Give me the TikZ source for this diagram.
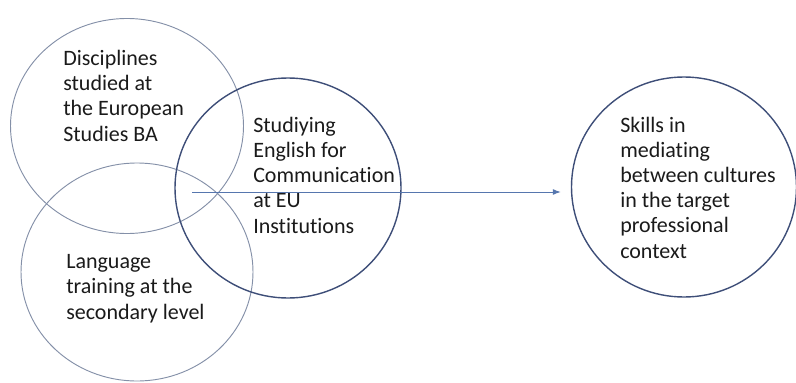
\documentclass[tikz,border=0pt]{standalone}
\usepackage{fontspec}
\setmainfont{Carlito}[Ligatures={NoCommon}]
\usetikzlibrary{positioning,arrows.meta,shapes.geometric}
\definecolor{ringlight}{HTML}{8490A8}
\definecolor{ringdark}{HTML}{3E4E78}
\definecolor{flow}{HTML}{5676AE}
\definecolor{ink}{HTML}{1A1A1A}

\begin{document}
\begin{tikzpicture}[x=0.75pt,y=-0.75pt,>=Latex,
  ring/.style={ellipse,draw=ringlight,line width=0.7pt,inner sep=0pt},
  ringd/.style={ellipse,draw=ringdark,line width=1.05pt,inner sep=0pt},
  txt/.style={anchor=base west,align=left,inner sep=0pt,text=ink,
    font=\fontsize{16.5}{18.9}\selectfont}]
\useasboundingbox (0,0) rectangle (796,382);
% the three overlapping circles and the target one (sizes in pt)
\node[ring,minimum width=174.75pt,minimum height=161.25pt] (disc) at (127,126) {};
\node[ring,minimum width=174pt,minimum height=163.5pt]     (lang) at (137,272) {};
\node[ringd,minimum width=169.5pt,minimum height=165pt]    (eng)  at (288,188) {};
\node[ringd,minimum width=168.75pt,minimum height=165pt]   (skill) at (684,187) {};
% texts, placed by the baseline of their last line
\node[txt] (tdisc)  at (63,141)  {Disciplines\\studied at\\the European\\Studies BA};
\node[txt] (tlang)  at (66,319)  {Language\\training at the\\secondary level};
\node[txt] (teng)   at (253,233) {Studiying\\English for\\Communication\\at EU\\Institutions};
\node[txt] (tskill) at (620,258) {Skills in\\mediating\\between cultures\\in the target\\professional\\context};
% the arrow into the target circle
\coordinate (src) at (192,192);
\draw[->,flow,line width=0.75pt,shorten >=7.5pt,arrows={->[length=6pt,width=4.5pt]}] (src) -- (src -| skill.west);
\end{tikzpicture}
\end{document}
